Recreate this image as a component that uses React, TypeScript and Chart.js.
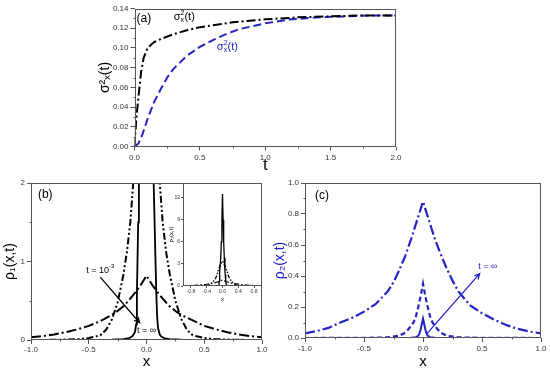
import React, { useEffect, useRef } from "react";
import { Chart, registerables } from "chart.js";
Chart.register(...registerables);

const FONT = "'Liberation Sans', 'DejaVu Sans', Arial, sans-serif";
const BLUE = "#2323c6";
const AXIS = "#555";
const TICK_COLOR = "#333";

// ---------- Panel (a): variances vs time ----------
const aTimeBlack = [0, 0.005, 0.015, 0.03, 0.05, 0.07, 0.1, 0.15, 0.2, 0.3, 0.4, 0.5, 0.6, 0.75, 1.0, 1.25, 1.5, 1.75, 2.0];
const aSigmaBlack = [0, 0.01, 0.03, 0.05, 0.075, 0.09, 0.1, 0.106, 0.109, 0.114, 0.118, 0.121, 0.123, 0.126, 0.129, 0.131, 0.132, 0.133, 0.133];
const aTimeBlue = [0, 0.03, 0.06, 0.1, 0.15, 0.2, 0.25, 0.3, 0.4, 0.5, 0.6, 0.7, 0.8, 1.0, 1.2, 1.4, 1.6, 1.8, 2.0];
const aSigmaBlue = [0, 0.003, 0.012, 0.028, 0.045, 0.058, 0.07, 0.079, 0.092, 0.101, 0.108, 0.114, 0.119, 0.125, 0.129, 0.131, 0.132, 0.133, 0.133];
const aXTicks = [0, 0.5, 1.0, 1.5, 2.0];
const aXTickLabels = ["0.0", "0.5", "1.0", "1.5", "2.0"];
const aYTicks = [0, 0.02, 0.04, 0.06, 0.08, 0.1, 0.12, 0.14];
const aYTickLabels = ["0.00", "0.02", "0.04", "0.06", "0.08", "0.10", "0.12", "0.14"];

// ---------- Panel (b): rho1(x,t) ----------
const bXSolid = [-1, -0.5, -0.3, -0.2, -0.15, -0.12, -0.1, -0.09, -0.083, -0.078, -0.072, -0.066, -0.045, -0.03, -0.015, 0, 0.015, 0.03, 0.045, 0.062, 0.07, 0.078, 0.085, 0.092, 0.1, 0.115, 0.13, 0.16, 0.2, 0.3, 0.5, 1];
const bRhoSolid = [0, 0, 0.003, 0.01, 0.025, 0.05, 0.1, 0.2, 0.6, 1.0, 1.5, 2.0, 3.8, 6.0, 9.0, 12.5, 9.0, 6.0, 3.8, 2.0, 1.5, 1.0, 0.6, 0.3, 0.15, 0.07, 0.04, 0.02, 0.01, 0.003, 0, 0];
const bXDashDotDot = [-1, -0.8, -0.6, -0.5, -0.4, -0.35, -0.3, -0.25, -0.2, -0.17, -0.14, -0.115, -0.08, -0.04, 0, 0.04, 0.08, 0.115, 0.14, 0.17, 0.2, 0.25, 0.3, 0.35, 0.4, 0.5, 0.6, 0.8, 1];
const bRhoDashDotDot = [0, 0.002, 0.01, 0.025, 0.06, 0.13, 0.26, 0.48, 0.83, 1.12, 1.5, 2.0, 2.5, 3.0, 3.4, 3.0, 2.5, 2.0, 1.5, 1.12, 0.85, 0.5, 0.27, 0.13, 0.06, 0.025, 0.01, 0.002, 0];
const bXDashDot = [-1, -0.9, -0.8, -0.7, -0.6, -0.5, -0.4, -0.3, -0.25, -0.2, -0.15, -0.1, -0.05, 0, 0.05, 0.1, 0.15, 0.2, 0.25, 0.3, 0.4, 0.5, 0.6, 0.7, 0.8, 0.9, 1];
const bRhoDashDot = [0.035, 0.05, 0.07, 0.1, 0.135, 0.18, 0.24, 0.32, 0.37, 0.43, 0.51, 0.6, 0.7, 0.82, 0.7, 0.6, 0.51, 0.43, 0.37, 0.32, 0.25, 0.18, 0.135, 0.1, 0.07, 0.05, 0.035];
const bXTicks = [-1, -0.5, 0, 0.5, 1];
const bXTickLabels = ["-1.0", "-0.5", "0.0", "0.5", "1.0"];
const bYTicks = [0, 1, 2];
const bYTickLabels = ["0", "1", "2"];
const insetXTicks = [-0.8, -0.4, 0, 0.4, 0.8];
const insetXTickLabels = ["-0.8", "-0.4", "0.0", "0.4", "0.8"];
const insetYTicks = [0, 3, 6, 9, 12];
const insetYTickLabels = ["0", "3", "6", "9", "12"];

// ---------- Panel (c): rho2(x,t) ----------
const cXDashDot = [-1, -0.9, -0.8, -0.7, -0.6, -0.5, -0.4, -0.3, -0.25, -0.2, -0.15, -0.1, -0.05, 0, 0.05, 0.1, 0.15, 0.2, 0.25, 0.3, 0.4, 0.5, 0.6, 0.7, 0.8, 0.9, 1];
const cRhoDashDot = [0.03, 0.045, 0.065, 0.1, 0.13, 0.17, 0.22, 0.3, 0.36, 0.44, 0.53, 0.64, 0.76, 0.88, 0.76, 0.64, 0.54, 0.45, 0.37, 0.3, 0.21, 0.16, 0.12, 0.085, 0.06, 0.042, 0.03];
const cXDashed = [-1, -0.5, -0.3, -0.2, -0.15, -0.12, -0.1, -0.08, -0.06, -0.04, -0.02, 0, 0.02, 0.04, 0.06, 0.08, 0.1, 0.12, 0.15, 0.2, 0.3, 0.5, 1];
const cRhoDashed = [0, 0.001, 0.004, 0.015, 0.035, 0.06, 0.08, 0.1, 0.14, 0.2, 0.27, 0.35, 0.27, 0.2, 0.14, 0.1, 0.08, 0.06, 0.035, 0.015, 0.004, 0.001, 0];
const cXSolid = [-1, -0.2, -0.1, -0.06, -0.04, -0.03, -0.02, -0.01, 0, 0.01, 0.02, 0.03, 0.04, 0.06, 0.1, 0.2, 1];
const cRhoSolid = [0, 0, 0.001, 0.005, 0.015, 0.03, 0.055, 0.09, 0.125, 0.09, 0.055, 0.03, 0.015, 0.005, 0.001, 0, 0];
const cXTicks = [-1, -0.5, 0, 0.5, 1];
const cXTickLabels = ["-1.0", "-0.5", "0.0", "0.5", "1.0"];
const cYTicks = [0, 0.2, 0.4, 0.6, 0.8, 1.0];
const cYTickLabels = ["0.0", "0.2", "0.4", "0.6", "0.8", "1.0"];

type Part = { text: string; size: number; dy?: number; stack?: boolean };
type TextNote = { x: number; y: number; parts: Part[]; color: string; align?: "left" | "center" };
type ArrowNote = { x1: number; y1: number; x2: number; y2: number; color: string };
type Decor = {
  xMinor?: number;
  yMinor?: number;
  minorLen?: number;
  fillArea?: boolean;
  texts?: TextNote[];
  arrows?: ArrowNote[];
};

function pts(xs: number[], ys: number[]) {
  return xs.map((x, i) => ({ x, y: ys[i] }));
}

function drawRich(ctx: CanvasRenderingContext2D, x: number, y: number, note: TextNote) {
  ctx.save();
  ctx.fillStyle = note.color;
  ctx.textBaseline = "middle";
  ctx.textAlign = "left";
  const widths = note.parts.map((p) => {
    ctx.font = `${p.size}px ${FONT}`;
    return ctx.measureText(p.text).width;
  });
  const place: number[] = [];
  let cx = 0;
  let prevStart = 0;
  let prevW = 0;
  note.parts.forEach((p, i) => {
    const w = widths[i];
    if (p.stack) {
      place.push(prevStart);
      const adv = Math.max(prevW, w);
      cx = prevStart + adv;
      prevW = adv;
    } else {
      place.push(cx);
      prevStart = cx;
      prevW = w;
      cx += w;
    }
  });
  const start = note.align === "center" ? x - cx / 2 : x;
  note.parts.forEach((p, i) => {
    ctx.font = `${p.size}px ${FONT}`;
    ctx.fillText(p.text, start + place[i], y + (p.dy || 0));
  });
  ctx.restore();
}

function makeDecor(cfg: Decor) {
  return {
    id: "decor",
    beforeDraw(chart: any) {
      if (!cfg.fillArea) return;
      const { ctx, chartArea: a } = chart;
      ctx.save();
      ctx.fillStyle = "#fff";
      ctx.fillRect(a.left, a.top, a.right - a.left, a.bottom - a.top);
      ctx.restore();
    },
    afterDraw(chart: any) {
      const { ctx, chartArea: a } = chart;
      const xs = chart.scales.x;
      const ys = chart.scales.y;
      ctx.save();
      ctx.strokeStyle = AXIS;
      ctx.lineWidth = 1;
      const L = Math.round(a.left) + 0.5;
      const R = Math.round(a.right) - 0.5;
      const T = Math.round(a.top) + 0.5;
      const B = Math.round(a.bottom) - 0.5;
      ctx.strokeRect(L, T, R - L, B - T);
      const len = cfg.minorLen ?? 2;
      const majorsX = xs.ticks.map((t: any) => t.value);
      const majorsY = ys.ticks.map((t: any) => t.value);
      ctx.beginPath();
      if (cfg.xMinor) {
        const n = Math.round((xs.max - xs.min) / cfg.xMinor);
        for (let i = 0; i <= n; i++) {
          const v = xs.min + i * cfg.xMinor;
          if (majorsX.some((m: number) => Math.abs(m - v) < 1e-9)) continue;
          const px = Math.round(xs.getPixelForValue(v)) + 0.5;
          ctx.moveTo(px, B);
          ctx.lineTo(px, B + len);
        }
      }
      if (cfg.yMinor) {
        const n = Math.round((ys.max - ys.min) / cfg.yMinor);
        for (let i = 0; i <= n; i++) {
          const v = ys.min + i * cfg.yMinor;
          if (majorsY.some((m: number) => Math.abs(m - v) < 1e-9)) continue;
          const py = Math.round(ys.getPixelForValue(v)) + 0.5;
          ctx.moveTo(L, py);
          ctx.lineTo(L - len, py);
        }
      }
      ctx.stroke();
      ctx.restore();

      (cfg.arrows || []).forEach((ar) => {
        const x1 = xs.getPixelForValue(ar.x1);
        const y1 = ys.getPixelForValue(ar.y1);
        const x2 = xs.getPixelForValue(ar.x2);
        const y2 = ys.getPixelForValue(ar.y2);
        const ang = Math.atan2(y2 - y1, x2 - x1);
        const h = 6;
        ctx.save();
        ctx.strokeStyle = ar.color;
        ctx.lineWidth = 1.3;
        ctx.beginPath();
        ctx.moveTo(x1, y1);
        ctx.lineTo(x2, y2);
        ctx.moveTo(x2 - h * Math.cos(ang - 0.45), y2 - h * Math.sin(ang - 0.45));
        ctx.lineTo(x2, y2);
        ctx.lineTo(x2 - h * Math.cos(ang + 0.45), y2 - h * Math.sin(ang + 0.45));
        ctx.stroke();
        ctx.restore();
      });
      (cfg.texts || []).forEach((t) => {
        drawRich(ctx, xs.getPixelForValue(t.x), ys.getPixelForValue(t.y), t);
      });
    },
  };
}

type ScaleOpts = {
  axis: "x" | "y";
  min: number;
  max: number;
  ticks: number[];
  labels: string[];
  fit: number;
  tickSize: number;
  tickLen: number;
  tickPad: number;
  title?: string;
  titleSize?: number;
  titleColor?: string;
  titlePad?: number;
  titleLH?: number;
};

function scaleCfg(o: ScaleOpts) {
  return {
    type: "linear",
    min: o.min,
    max: o.max,
    afterBuildTicks: (s: any) => {
      s.ticks = o.ticks.map((v) => ({ value: v }));
    },
    afterFit: (s: any) => {
      if (o.axis === "x") s.height = o.fit;
      else s.width = o.fit;
    },
    grid: {
      drawOnChartArea: false,
      drawTicks: true,
      tickLength: o.tickLen,
      color: AXIS,
      lineWidth: 1,
    },
    border: { display: false },
    ticks: {
      callback: (_v: any, i: number) => o.labels[i],
      font: { family: FONT, size: o.tickSize },
      color: TICK_COLOR,
      padding: o.tickPad,
      maxRotation: 0,
      minRotation: 0,
      autoSkip: false,
    },
    title: {
      display: !!o.title,
      text: o.title || "",
      color: o.titleColor || "#000",
      font: { family: FONT, size: o.titleSize || 14, lineHeight: o.titleLH || 1.1 },
      padding: o.axis === "x" ? { top: 0, bottom: o.titlePad || 0 } : { top: o.titlePad || 0, bottom: 0 },
    },
  };
}

function lineDs(xs: number[], ys: number[], color: string, width: number, dash: number[]) {
  return {
    data: pts(xs, ys),
    borderColor: color,
    backgroundColor: color,
    borderWidth: width,
    borderDash: dash,
    pointRadius: 0,
    tension: 0,
    fill: false,
  };
}

function baseConfig(datasets: any[], padding: any, x: any, y: any, decor: Decor) {
  return {
    type: "line",
    data: { datasets },
    options: {
      responsive: false,
      animation: false,
      events: [],
      layout: { padding },
      plugins: {
        legend: { display: false },
        tooltip: { enabled: false },
        title: { display: false },
      },
      scales: { x, y },
    },
    plugins: [makeDecor(decor)],
  } as any;
}

const sigmaParts = (): Part[] => [
  { text: "σ", size: 11 },
  { text: "2", size: 7, dy: -4 },
  { text: "x", size: 7, dy: 3, stack: true },
  { text: "(t)", size: 11 },
];

function makePanelA() {
  return baseConfig(
    [
      lineDs(aTimeBlack, aSigmaBlack, "#000", 2, [9, 3, 2, 3]),
      lineDs(aTimeBlue, aSigmaBlue, BLUE, 2, [8, 4]),
    ],
    { left: 0, top: 8.5, right: 24, bottom: 0 },
    scaleCfg({ axis: "x", min: 0, max: 2, ticks: aXTicks, labels: aXTickLabels, fit: 28.5, tickSize: 8, tickLen: 4, tickPad: 2, title: "t", titleSize: 17, titleLH: 1, titlePad: 1 }),
    scaleCfg({ axis: "y", min: 0, max: 0.14, ticks: aYTicks, labels: aYTickLabels, fit: 44.5, tickSize: 8, tickLen: 4, tickPad: 2, title: "σ²ₓ(t)", titleSize: 14, titleLH: 1.2, titlePad: 7 }),
    {
      xMinor: 0.25,
      yMinor: 0.01,
      texts: [
        { x: 0.015, y: 0.13, parts: [{ text: "(a)", size: 12 }], color: "#000" },
        { x: 0.3, y: 0.131, parts: sigmaParts(), color: "#000" },
        { x: 0.63, y: 0.101, parts: sigmaParts(), color: BLUE },
      ],
    }
  );
}

function makePanelB() {
  return baseConfig(
    [
      lineDs(bXDashDot, bRhoDashDot, "#000", 2, [10, 3, 2, 3]),
      lineDs(bXDashDotDot, bRhoDashDotDot, "#000", 2, [7, 2.5, 2, 2.5, 2, 2.5]),
      lineDs(bXSolid, bRhoSolid, "#000", 1.8, []),
    ],
    { left: 0, top: 11, right: 13, bottom: 0 },
    scaleCfg({ axis: "x", min: -1, max: 1, ticks: bXTicks, labels: bXTickLabels, fit: 29, tickSize: 8, tickLen: 4, tickPad: 1, title: "x", titleSize: 15, titleLH: 1, titlePad: 0 }),
    scaleCfg({ axis: "y", min: 0, max: 2, ticks: bYTicks, labels: bYTickLabels, fit: 31, tickSize: 8, tickLen: 4, tickPad: 2, title: "ρ₁(x,t)", titleSize: 14, titleLH: 1.1, titlePad: 2 }),
    {
      xMinor: 0.25,
      yMinor: 0.5,
      texts: [
        { x: -0.94, y: 1.85, parts: [{ text: "(b)", size: 12 }], color: "#000" },
        { x: -0.4, y: 0.89, parts: [{ text: "t = 10", size: 9 }, { text: "-3", size: 6, dy: -4 }], color: "#000", align: "center" },
        { x: 0.0, y: 0.12, parts: [{ text: "t = ∞", size: 9 }], color: "#000", align: "center" },
      ],
      arrows: [{ x1: -0.4, y1: 0.8, x2: -0.06, y2: 0.22, color: "#000" }],
    }
  );
}

function makeInset() {
  return baseConfig(
    [
      lineDs(bXDashDot, bRhoDashDot, "#000", 1.2, [5, 2, 1.5, 2]),
      lineDs(bXDashDotDot, bRhoDashDotDot, "#000", 1.3, [4, 1.5, 1.5, 1.5, 1.5, 1.5]),
      lineDs(bXSolid, bRhoSolid, "#000", 1.3, []),
    ],
    { left: 0, top: 7, right: 10, bottom: 0 },
    scaleCfg({ axis: "x", min: -1, max: 1, ticks: insetXTicks, labels: insetXTickLabels, fit: 16, tickSize: 5, tickLen: 2, tickPad: 1, title: "x", titleSize: 6, titleLH: 1, titlePad: 0 }),
    scaleCfg({ axis: "y", min: 0, max: 14, ticks: insetYTicks, labels: insetYTickLabels, fit: 23, tickSize: 5, tickLen: 2, tickPad: 1, title: "ρ₁(x,t)", titleSize: 6, titleLH: 1, titlePad: 8 }),
    { fillArea: true }
  );
}

function makePanelC() {
  return baseConfig(
    [
      lineDs(cXDashDot, cRhoDashDot, BLUE, 2.2, [10, 3, 2, 3]),
      lineDs(cXDashed, cRhoDashed, BLUE, 2.2, [5, 3]),
      lineDs(cXSolid, cRhoSolid, BLUE, 2, []),
    ],
    { left: 0, top: 11, right: 9, bottom: 0 },
    scaleCfg({ axis: "x", min: -1, max: 1, ticks: cXTicks, labels: cXTickLabels, fit: 31, tickSize: 8, tickLen: 4, tickPad: 2, title: "x", titleSize: 15, titleLH: 1, titlePad: 0 }),
    scaleCfg({ axis: "y", min: 0, max: 1, ticks: cYTicks, labels: cYTickLabels, fit: 33, tickSize: 8, tickLen: 4, tickPad: 2, title: "ρ₂(x,t)", titleSize: 14, titleColor: BLUE, titleLH: 1.1, titlePad: 0 }),
    {
      xMinor: 0.25,
      yMinor: 0.1,
      texts: [
        { x: -0.915, y: 0.92, parts: [{ text: "(c)", size: 12 }], color: "#000" },
        { x: 0.55, y: 0.46, parts: [{ text: "t = ∞", size: 9 }], color: BLUE, align: "center" },
      ],
      arrows: [{ x1: 0.03, y1: 0.025, x2: 0.48, y2: 0.415, color: BLUE }],
    }
  );
}

function ChartCanvas(props: { left: number; top: number; width: number; height: number; make: () => any }) {
  const ref = useRef<HTMLCanvasElement>(null);
  useEffect(() => {
    if (!ref.current) return;
    const chart = new Chart(ref.current, props.make());
    return () => chart.destroy();
  }, []);
  return (
    <canvas
      ref={ref}
      width={props.width}
      height={props.height}
      style={{ position: "absolute", left: props.left, top: props.top, width: props.width, height: props.height }}
    />
  );
}

export default function App() {
  return (
    <div style={{ position: "absolute", left: 0, top: 0, width: 550, height: 369, background: "#fff", overflow: "hidden" }}>
      <ChartCanvas left={90} top={0} width={330} height={175} make={makePanelA} />
      <ChartCanvas left={0} top={172} width={275} height={197} make={makePanelB} />
      <ChartCanvas left={160} top={176} width={112} height={126} make={makeInset} />
      <ChartCanvas left={272} top={172} width={278} height={197} make={makePanelC} />
    </div>
  );
}
